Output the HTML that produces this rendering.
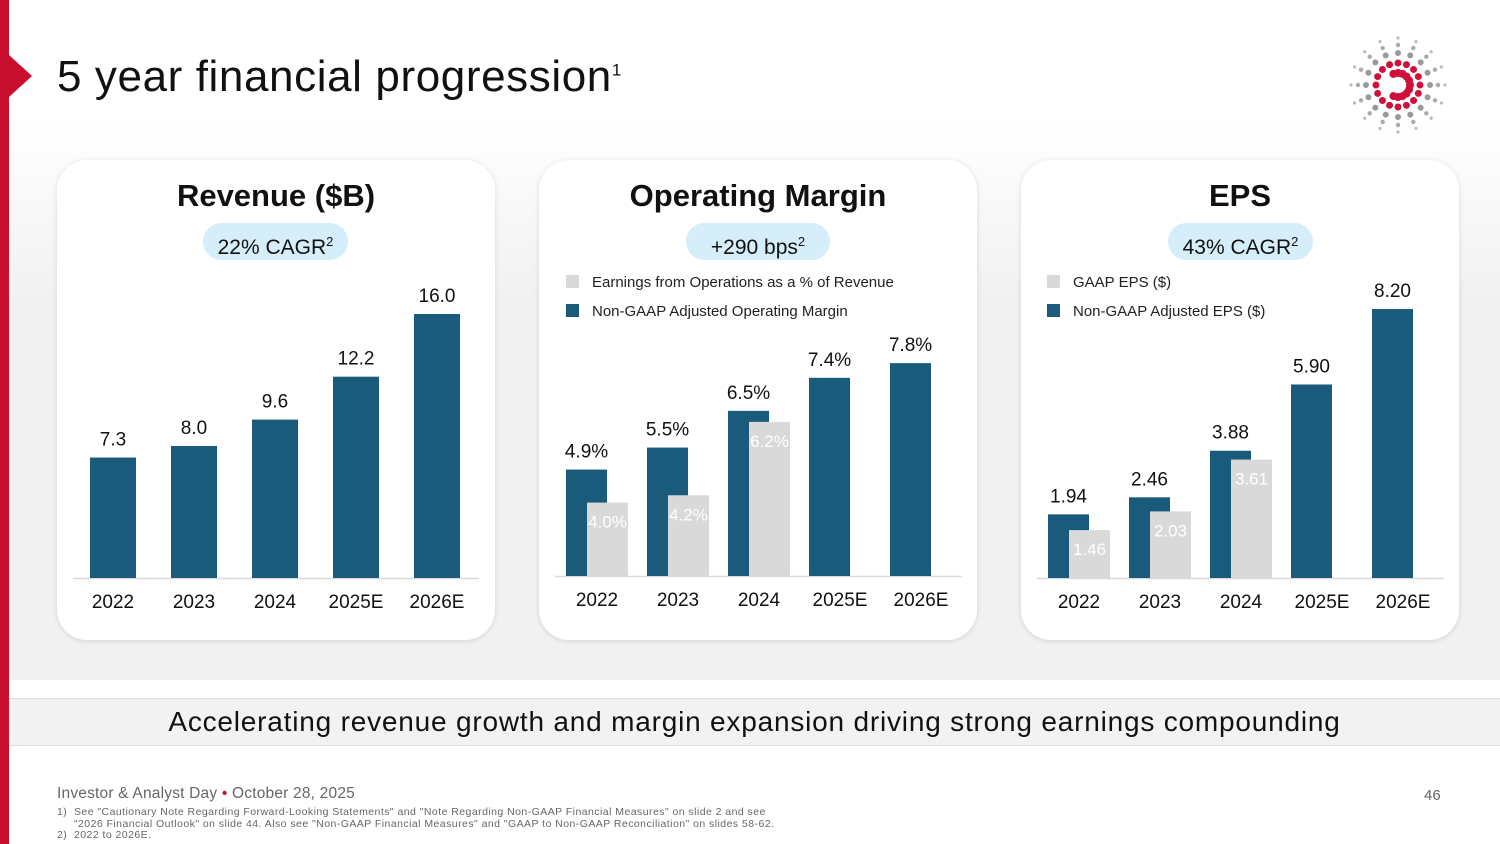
<!DOCTYPE html>
<html><head><meta charset="utf-8">
<style>
body{margin:0;width:1500px;height:844px;position:relative;background:#fff;font-family:"Liberation Sans",sans-serif;overflow:hidden}
.abs{position:absolute}
.card{position:absolute;top:160px;width:438px;height:480px;background:#fff;border-radius:30px;box-shadow:0 1px 6px rgba(0,0,0,0.12)}
.ctitle{position:absolute;top:178px;width:438px;text-align:center;font-size:31px;font-weight:bold;color:#111}
.pill{position:absolute;top:223px;height:37px;border-radius:19px;background:#d5eef9;font-size:21px;color:#111;text-align:center;line-height:37px}
.pill sup{font-size:13px}
</style></head><body>
<div class="abs" style="left:0;top:0;width:1500px;height:680px;background:linear-gradient(#fff 0,#fff 120px,#f1f1f1 300px,#f1f1f1 680px)"></div>
<div class="abs" style="left:0;top:0;width:9px;height:844px;background:#c8102e"></div>
<div class="abs" style="left:9px;top:55px;width:0;height:0;border-top:21px solid transparent;border-bottom:21px solid transparent;border-left:23px solid #c8102e"></div>
<div class="abs" style="left:57px;top:52px;font-size:44px;letter-spacing:0.6px;color:#111">5 year financial progression<sup style="font-size:17px">1</sup></div>
<svg class="abs" id="logo" style="left:1340px;top:30px" width="110" height="110"></svg>

<div class="card" style="left:57px"></div>
<div class="card" style="left:539px"></div>
<div class="card" style="left:1021px"></div>
<div class="ctitle" style="left:57px">Revenue ($B)</div>
<div class="ctitle" style="left:539px">Operating Margin</div>
<div class="ctitle" style="left:1021px">EPS</div>
<div class="pill" style="left:203px;width:145px">22% CAGR<sup>2</sup></div>
<div class="pill" style="left:686px;width:144px">+290 bps<sup>2</sup></div>
<div class="pill" style="left:1168px;width:145px">43% CAGR<sup>2</sup></div>

<svg class="abs" id="charts" style="left:0;top:0" width="1500" height="680" font-family="Liberation Sans, sans-serif"></svg>

<div class="abs" style="left:9px;top:698px;width:1491px;height:46px;background:#f2f2f2;border-top:1px solid #ddd;border-bottom:1px solid #ddd;text-align:center;font-size:28px;letter-spacing:0.8px;line-height:46px;color:#111">Accelerating revenue growth and margin expansion driving strong earnings compounding</div>
<div class="abs" style="left:57px;top:785px;font-size:15.5px;letter-spacing:0.2px;color:#666">Investor &amp; Analyst Day <span style="color:#c8102e">•</span> October 28, 2025</div>
<div class="abs" style="left:1424px;top:787px;font-size:15px;color:#666">46</div>
<div class="abs" style="left:57px;top:807px;font-size:10.5px;letter-spacing:0.45px;line-height:11.5px;color:#666">1)&nbsp; See "Cautionary Note Regarding Forward-Looking Statements" and "Note Regarding Non-GAAP Financial Measures" on slide 2 and see<br>&nbsp;&nbsp;&nbsp;&nbsp;&nbsp;"2026 Financial Outlook" on slide 44. Also see "Non-GAAP Financial Measures" and "GAAP to Non-GAAP Reconciliation" on slides 58-62.<br>2)&nbsp; 2022 to 2026E.</div>

<script>
const years = ["2022","2023","2024","2025E","2026E"];
const revenue = [7.3, 8.0, 9.6, 12.2, 16.0];
const revenueLabels = ["7.3","8.0","9.6","12.2","16.0"];
const marginAdj = [4.9, 5.5, 6.5, 7.4, 7.8];
const marginAdjLabels = ["4.9%","5.5%","6.5%","7.4%","7.8%"];
const marginGaap = [4.0, 4.2, 6.2, null, null];
const marginGaapLabels = ["4.0%","4.2%","6.2%","",""];
const epsAdj = [1.94, 2.46, 3.88, 5.90, 8.20];
const epsAdjLabels = ["1.94","2.46","3.88","5.90","8.20"];
const epsGaap = [1.46, 2.03, 3.61, null, null];
const epsGaapLabels = ["1.46","2.03","3.61","",""];

const NS="http://www.w3.org/2000/svg";
const svg=document.getElementById('charts');
function mk(tag,attrs,parent){const e=document.createElementNS(NS,tag);for(const k in attrs)e.setAttribute(k,attrs[k]);(parent||svg).appendChild(e);return e;}
function txt(x,y,s,size,fill,anchor){const t=mk('text',{x:x,y:y,'font-size':size,fill:fill,'text-anchor':anchor||'middle'});t.textContent=s;return t;}

function chart(cfg){
  const y=v=>cfg.base-(v-cfg.min)*cfg.ppu;
  const x=i=>cfg.x0+i*81;
  const ax=mk('line',{x1:cfg.ax1,x2:cfg.ax2,y1:cfg.base+0.5,y2:cfg.base+0.5,stroke:'#d9d9d9','stroke-width':1.5});
  
  
  years.forEach((yr,i)=>{
    const cx=x(i)+(cfg.gaap?31:23);
    const t=txt(cx,cfg.base+30,yr,19,'#111');
    
    
    const v=cfg.adj[i];
    const r=mk('rect',{x:x(i),y:y(v),width:cfg.bw,height:cfg.base-y(v),fill:'#1a5a7a'});
    
    
    const l=txt(x(i)+cfg.bw/2,y(v)-12,cfg.adjL[i],19,'#111');
    
    
    if(cfg.gaap&&cfg.gaap[i]!=null){
      const g=cfg.gaap[i];
      const gr=mk('rect',{x:x(i)+21,y:y(g),width:41,height:cfg.base-y(g),fill:'#d9d9d9'});
      
      
      const gl=txt(x(i)+41.5,y(g)+25,cfg.gaapL[i],17,'#fff');
      
      
    }
  });
}
chart({name:'revenue',x0:90,bw:46,base:578,min:0,ppu:16.5,adj:revenue,adjL:revenueLabels,ax1:73,ax2:479});
chart({name:'margin',x0:566,bw:41,base:576,min:2,ppu:36.7,adj:marginAdj,adjL:marginAdjLabels,gaap:marginGaap,gaapL:marginGaapLabels,ax1:555,ax2:962});
chart({name:'eps',x0:1048,bw:41,base:578,min:0,ppu:32.8,adj:epsAdj,adjL:epsAdjLabels,gaap:epsGaap,gaapL:epsGaapLabels,ax1:1037,ax2:1444});

function legend(x,yy,label,color,name){
  const r=mk('rect',{x:x,y:yy-7,width:13,height:13,fill:color});
  
  
  const t=txt(x+26,yy+5,label,15,'#222','start');
  
  
}
legend(566,282,'Earnings from Operations as a % of Revenue','#d9d9d9','margin-legend-gaap');
legend(566,311,'Non-GAAP Adjusted Operating Margin','#1a5a7a','margin-legend-adjusted');
legend(1047,282,'GAAP EPS ($)','#d9d9d9','eps-legend-gaap');
legend(1047,311,'Non-GAAP Adjusted EPS ($)','#1a5a7a','eps-legend-adjusted');

// logo
const lg=document.getElementById('logo');
const cx=58,cy=55;
for(let k=0;k<16;k++){
  const a=k*Math.PI/8;
  const dx=Math.cos(a),dy=Math.sin(a);
  const left=dx<-0.5;
  [[12,4,'#d0103a'],[22,3.5,'#d0103a'],[32,3,'#999'],[40,2.2,'#aaa'],[47,1.6,'#bbb']].forEach(([r,s,c],j)=>{
    if(left&&j<1)return;
    let col=c; if(left&&j==1)col='#d0103a';
    const d=document.createElementNS(NS,'circle');
    d.setAttribute('cx',cx+dx*r);d.setAttribute('cy',cy+dy*r);d.setAttribute('r',s);d.setAttribute('fill',col);
    lg.appendChild(d);
  });
}
</script>
</body></html>
